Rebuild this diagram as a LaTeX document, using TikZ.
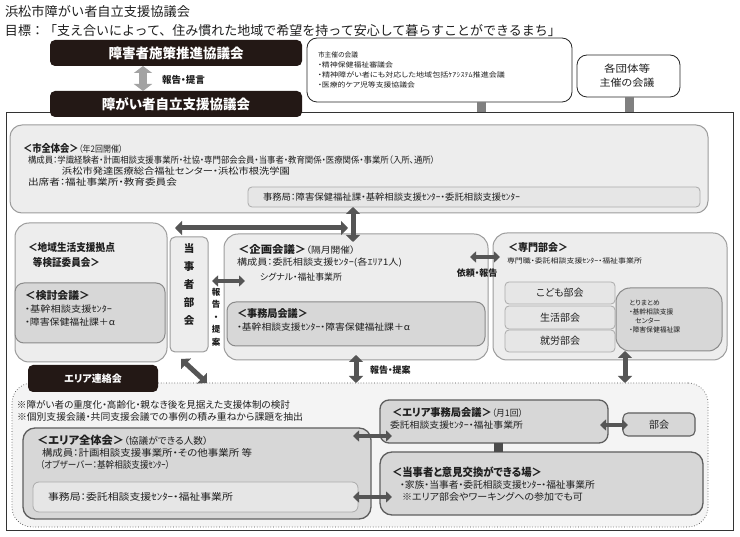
\documentclass[tikz,border=0pt]{standalone}
\usepackage{fontspec}
\usepackage{graphicx}
\setmainfont{Noto Sans CJK JP}[RawFeature=+palt]
\newfontfamily\jpn{Noto Sans CJK JP}
\usetikzlibrary{arrows.meta,calc}
\definecolor{blk}{HTML}{231815}
\definecolor{lf}{HTML}{EDEDED}
\definecolor{lb}{HTML}{9C9C9C}
\definecolor{df}{HTML}{D7D7D7}
\definecolor{db}{HTML}{8A8A8A}
\definecolor{mf}{HTML}{E6E6E6}
\definecolor{mb}{HTML}{ABABAB}
\definecolor{af}{HTML}{F4F4F4}
\definecolor{ag}{HTML}{5E5E5E}
\definecolor{ac}{HTML}{555555}
\definecolor{al}{HTML}{A3A3A3}
\definecolor{tx}{HTML}{1F1F1F}
\newcommand\hfitx[2]{\resizebox{#1pt}{\height}{#2}}
\newcommand\fsz[1]{\fontsize{#1}{#1}\selectfont}
\begin{document}
\begin{tikzpicture}[x=1pt,y=-1pt,
  t/.style={inner sep=0pt, outer sep=0pt, anchor=west, text=tx, font=\fsz{9}},
  box/.style={anchor=north west, inner sep=0pt, outer sep=0pt},
  lbox/.style={box, fill=lf, draw=lb, line width=1pt, rounded corners=12pt},
  dbox/.style={box, fill=df, draw=db, line width=1pt, rounded corners=9pt},
  mbox/.style={box, fill=mf, draw=mb, line width=0.8pt, rounded corners=4pt},
  wbox/.style={box, fill=white, draw=black!85, line width=0.8pt, rounded corners=10pt},
  bbox/.style={box, fill=blk, rounded corners=5pt, text=white, font=\bfseries\fsz{13.5}},
  dbl/.style={draw=ac, line width=5pt, {Triangle[length=7pt,width=14pt]}-{Triangle[length=7pt,width=14pt]}},
  sdbl/.style={draw=ac, line width=3.5pt, {Triangle[length=6pt,width=11pt]}-{Triangle[length=6pt,width=11pt]}},
  ldbl/.style={draw=al, line width=8pt, {Triangle[length=7pt,width=18pt]}-{Triangle[length=7pt,width=18pt]}},
  stub/.style={draw=black!50, line width=9pt},
  stubd/.style={draw=black!70, line width=9pt},
]
\fill[white] (0,0) rectangle (740,537);
\useasboundingbox (0,0) rectangle (740,537);

% titles
\node[t, font=\jpn\fsz{13}] (title) at (5,11.5) {\hfitx{185}{浜松市障がい者自立支援協議会}};
\node[t, font=\jpn\fsz{13}] (goal) at (5,31) {\hfitx{556}{目標：「支え合いによって、住み慣れた地域で希望を持って安心して暮らすことができるまち」}};

% outer frame
\node[box, draw=black!80, line width=0.8pt, minimum width=727pt, minimum height=418pt] (frame) at (6,112) {};

% top boxes
\node[bbox, minimum width=252pt, minimum height=26pt] (b1) at (50,40) {障害者施策推進協議会};
\node[bbox, minimum width=252pt, minimum height=26pt] (b2) at (50,91) {障がい者自立支援協議会};
\node[t, font=\bfseries\fsz{9.5}] (lb1) at (162,80) {報告・提言};

\node[wbox, minimum width=265pt, minimum height=64pt] (w1) at (307,38) {};
\node[t, font=\fsz{6.8}] (w1a) at (318,55) {\hfitx{40}{市主催の会議}};
\node[t, font=\fsz{6.8}] (w1b) at (318,65) {\hfitx{75}{・精神保健福祉審議会}};
\node[t, font=\fsz{6.8}] (w1c) at (318,75) {\hfitx{187}{・精神障がい者にも対応した地域包括ｹｱｼｽﾃﾑ推進会議}};
\node[t, font=\fsz{6.8}] (w1d) at (318,85) {\hfitx{97}{・医療的ケア児等支援協議会}};

\node[wbox, minimum width=103pt, minimum height=42pt] (w2) at (577,55) {};
\node[t, anchor=center, font=\fsz{10}] (w2a) at (627,68.5) {\hfitx{46}{各団体等}};
\node[t, anchor=center, font=\fsz{10}] (w2b) at (627,83) {\hfitx{55}{主催の会議}};

% 市全体会
\node[lbox, minimum width=698pt, minimum height=88pt] (zen) at (10,125) {};
\node[mbox, minimum width=452pt, minimum height=20pt] (zenjim) at (248,187) {};
\node[t] (z1) at (23,148) {\hfitx{100}{{\bfseries\fsz{10.5}＜市全体会＞}\fsz{9}（年2回開催）}};
\node[t] (z2) at (28,160) {\hfitx{407}{構成員：学識経験者・計画相談支援事業所・社協・専門部会会員・当事者・教育関係・医療関係・事業所（入所、通所）}};
\node[t] (z3) at (62,171) {\hfitx{228}{浜松市発達医療総合福祉センター・浜松市根洗学園}};
\node[t] (z4) at (28,182) {\hfitx{149}{出席者：福祉事業所・教育委員会}};
\node[t] (z5) at (263,197) {\hfitx{257}{事務局：障害保健福祉課・基幹相談支援ｾﾝﾀｰ・委託相談支援ｾﾝﾀｰ}};

% 地域生活支援拠点
\node[lbox, rounded corners=14pt, minimum width=152pt, minimum height=139pt] (chiiki) at (15,223) {};
\node[dbox, minimum width=150pt, minimum height=60pt] (kento) at (15,283) {};
\node[t] (c1) at (28,248) {\hfitx{87}{\bfseries\fsz{10.5}＜地域生活支援拠点}};
\node[t] (c2) at (33,262) {\hfitx{67}{\bfseries\fsz{10.5}等検証委員会＞}};
\node[t] (k1) at (25,296) {\hfitx{65}{\bfseries\fsz{10.5}＜検討会議＞}};
\node[t] (k2) at (25,309) {\hfitx{87}{・基幹相談支援ｾﾝﾀｰ}};
\node[t] (k3) at (25,322) {\hfitx{90}{・障害保健福祉課＋α}};

% 当事者部会
\node[lbox, rounded corners=5pt, minimum width=38pt, minimum height=115pt] (tojisha) at (170,237) {};
\node[inner sep=0pt, align=center, anchor=north, text=tx, font=\bfseries\fontsize{10.5}{18}\selectfont] (tjt) at (189,243) {当\\事\\者\\部\\会};
\node[inner sep=0pt, align=center, anchor=north, text=tx, font=\bfseries\fontsize{8.5}{12.5}\selectfont] (vl) at (216,288) {報\\告\\・\\提\\案};

% 企画会議
\node[lbox, rounded corners=14pt, minimum width=264pt, minimum height=126pt] (kikaku) at (224,234) {};
\node[dbox, minimum width=258pt, minimum height=44pt] (kjm) at (227,302) {};
\node[t] (g1) at (238,249) {\hfitx{117}{{\bfseries\fsz{10.5}＜企画会議＞}\fsz{9}（隔月開催）}};
\node[t] (g2) at (237,263) {\hfitx{165}{構成員：委託相談支援ｾﾝﾀｰ(各ｴﾘｱ1人)}};
\node[t] (g3) at (260,277) {\hfitx{82}{シグナル・福祉事業所}};
\node[t] (j1) at (237,314) {\hfitx{71}{\bfseries\fsz{10.5}＜事務局会議＞}};
\node[t] (j2) at (237,327) {\hfitx{173}{・基幹相談支援ｾﾝﾀｰ・障害保健福祉課＋α}};

% 専門部会
\node[lbox, rounded corners=14pt, minimum width=234pt, minimum height=127pt] (senmon) at (493,233) {};
\node[t] (s1) at (508,248) {\hfitx{60}{\bfseries\fsz{10.5}＜専門部会＞}};
\node[t, font=\fsz{6.8}] (s2) at (507,261) {\hfitx{135}{専門職・委託相談支援ｾﾝﾀｰ・福祉事業所}};
\node[mbox, minimum width=110pt, minimum height=22pt, text=tx, font=\fsz{10}] (kodomo) at (505,282) {こども部会};
\node[mbox, minimum width=110pt, minimum height=23pt, text=tx, font=\fsz{10}] (seikatsu) at (505,306) {生活部会};
\node[mbox, minimum width=110pt, minimum height=22pt, text=tx, font=\fsz{10}] (shuro) at (505,330) {就労部会};
\node[dbox, rounded corners=14pt, minimum width=106pt, minimum height=63pt] (tori) at (616,288) {};
\node[inner sep=0pt, align=left, anchor=north west, text=tx, font=\fontsize{6.8}{9}\selectfont] (tt) at (629,300) {とりまとめ\\・基幹相談支援\\\hspace{6pt}センター\\・障害保健福祉課};

% エリア
\node[box, fill=af, draw=black!70, dotted, line width=0.7pt, rounded corners=20pt, minimum width=696pt, minimum height=144pt] (area) at (12,383) {};
\node[bbox, font=\bfseries\fsz{10}, minimum width=130pt, minimum height=27pt] (renraku) at (28,365) {エリア連絡会};
\node[t, font=\fsz{9.5}] (a1) at (17,405) {\hfitx{273}{※障がい者の重度化・高齢化・親なき後を見据えた支援体制の検討}};
\node[t, font=\fsz{9.5}] (a2) at (17,417) {\hfitx{286}{※個別支援会議・共同支援会議での事例の積み重ねから課題を抽出}};

\node[dbox, draw=ag, line width=1.3pt, rounded corners=12pt, minimum width=348pt, minimum height=91pt] (az) at (23,428) {};
\node[mbox, rounded corners=6pt, minimum width=325pt, minimum height=30pt] (azjim) at (33,482) {};
\node[t, font=\fsz{9.5}] (az1) at (37,440) {\hfitx{171}{{\bfseries\fsz{11}＜エリア全体会＞}\fsz{9.5}（協議ができる人数）}};
\node[t, font=\fsz{9.5}] (az2) at (42,453) {\hfitx{210}{構成員：計画相談支援事業所・その他事業所 等}};
\node[t, font=\fsz{9.5}] (az3) at (40,465) {\hfitx{130}{（オブザーバー：基幹相談支援ｾﾝﾀｰ）}};
\node[t, font=\fsz{9.5}] (az4) at (48,497) {\hfitx{185}{事務局：委託相談支援ｾﾝﾀｰ・福祉事業所}};

\node[dbox, draw=ag, line width=1.3pt, minimum width=228pt, minimum height=43pt] (aj) at (380,400) {};
\node[t] (aj1) at (392,413) {\hfitx{131}{{\bfseries\fsz{10.5}＜エリア事務局会議＞}\fsz{9}（月1回）}};
\node[t] (aj2) at (390,425) {\hfitx{133}{委託相談支援ｾﾝﾀｰ・福祉事業所}};
\node[dbox, draw=ag, line width=1.1pt, rounded corners=5pt, minimum width=72pt, minimum height=23pt, text=tx, font=\fsz{10}] (bukai) at (623,413) {部会};

\node[dbox, draw=ag, line width=1.3pt, rounded corners=12pt, minimum width=323pt, minimum height=63pt] (tjb) at (380,452) {};
\node[t] (t1) at (392,472) {\hfitx{150}{\bfseries\fsz{11}＜当事者と意見交換ができる場＞}};
\node[t, font=\fsz{9.5}] (t2) at (400,485) {\hfitx{195}{・家族・当事者・委託相談支援ｾﾝﾀｰ・福祉事業所}};
\node[t, font=\fsz{9.5}] (t3) at (402,497) {\hfitx{181}{※エリア部会やワーキングへの参加でも可}};

% labels
\node[t, anchor=center, font=\bfseries\fsz{9}] (lb2) at (477,273) {依頼・報告};
\node[t, font=\bfseries\fsz{9}] (lb3) at (370,370) {報告・提案};

% connectors
\draw[ldbl] (b1.south -| 143,0) -- (b2.north -| 143,0);
\draw[stub] (w1.south -| 481,0) -- (frame.north -| 481,0);
\draw[stub] (w2.south -| 629,0) -- (frame.north -| 629,0);
\draw[dbl] (zenjim.south -| 353,0) -- ($(kikaku.north -| 353,0)+(0,8)$);
\coordinate (hl) at (175,228);
\coordinate (hr) at (348,228);
\draw[dbl] (hl) -- (hr);
\draw[sdbl] ($(tojisha.east |- 0,281)+(4,0)$) -- ($(kikaku.west |- 0,281)+(21,0)$);
\draw[sdbl] ($(kikaku.east |- 0,257)+(-18,0)$) -- ($(senmon.west |- 0,257)+(7,0)$);
\draw[dbl] ($(kikaku.south -| 356,0)+(0,-5)$) -- (area.north -| 356,0);
\draw[dbl] (tori.south -| 625,0) -- (area.north -| 625,0);
\coordinate (dg1) at (181,359);
\coordinate (dg2) at (207,383);
\draw[dbl] (dg1) -- (dg2);
\draw[sdbl] ($(az.east |- 0,436)+(-18,0)$) -- ($(aj.west |- 0,436)+(12,0)$);
\draw[sdbl] ($(az.east |- 0,497)+(-18,0)$) -- ($(tjb.west |- 0,497)+(12,0)$);
\draw[sdbl] ($(aj.east |- 0,425)+(-8,0)$) -- ($(bukai.west |- 0,425)+(5,0)$);
\draw[stubd] (aj.south -| 498,0) -- (tjb.north -| 498,0);
\end{tikzpicture}
\end{document}
